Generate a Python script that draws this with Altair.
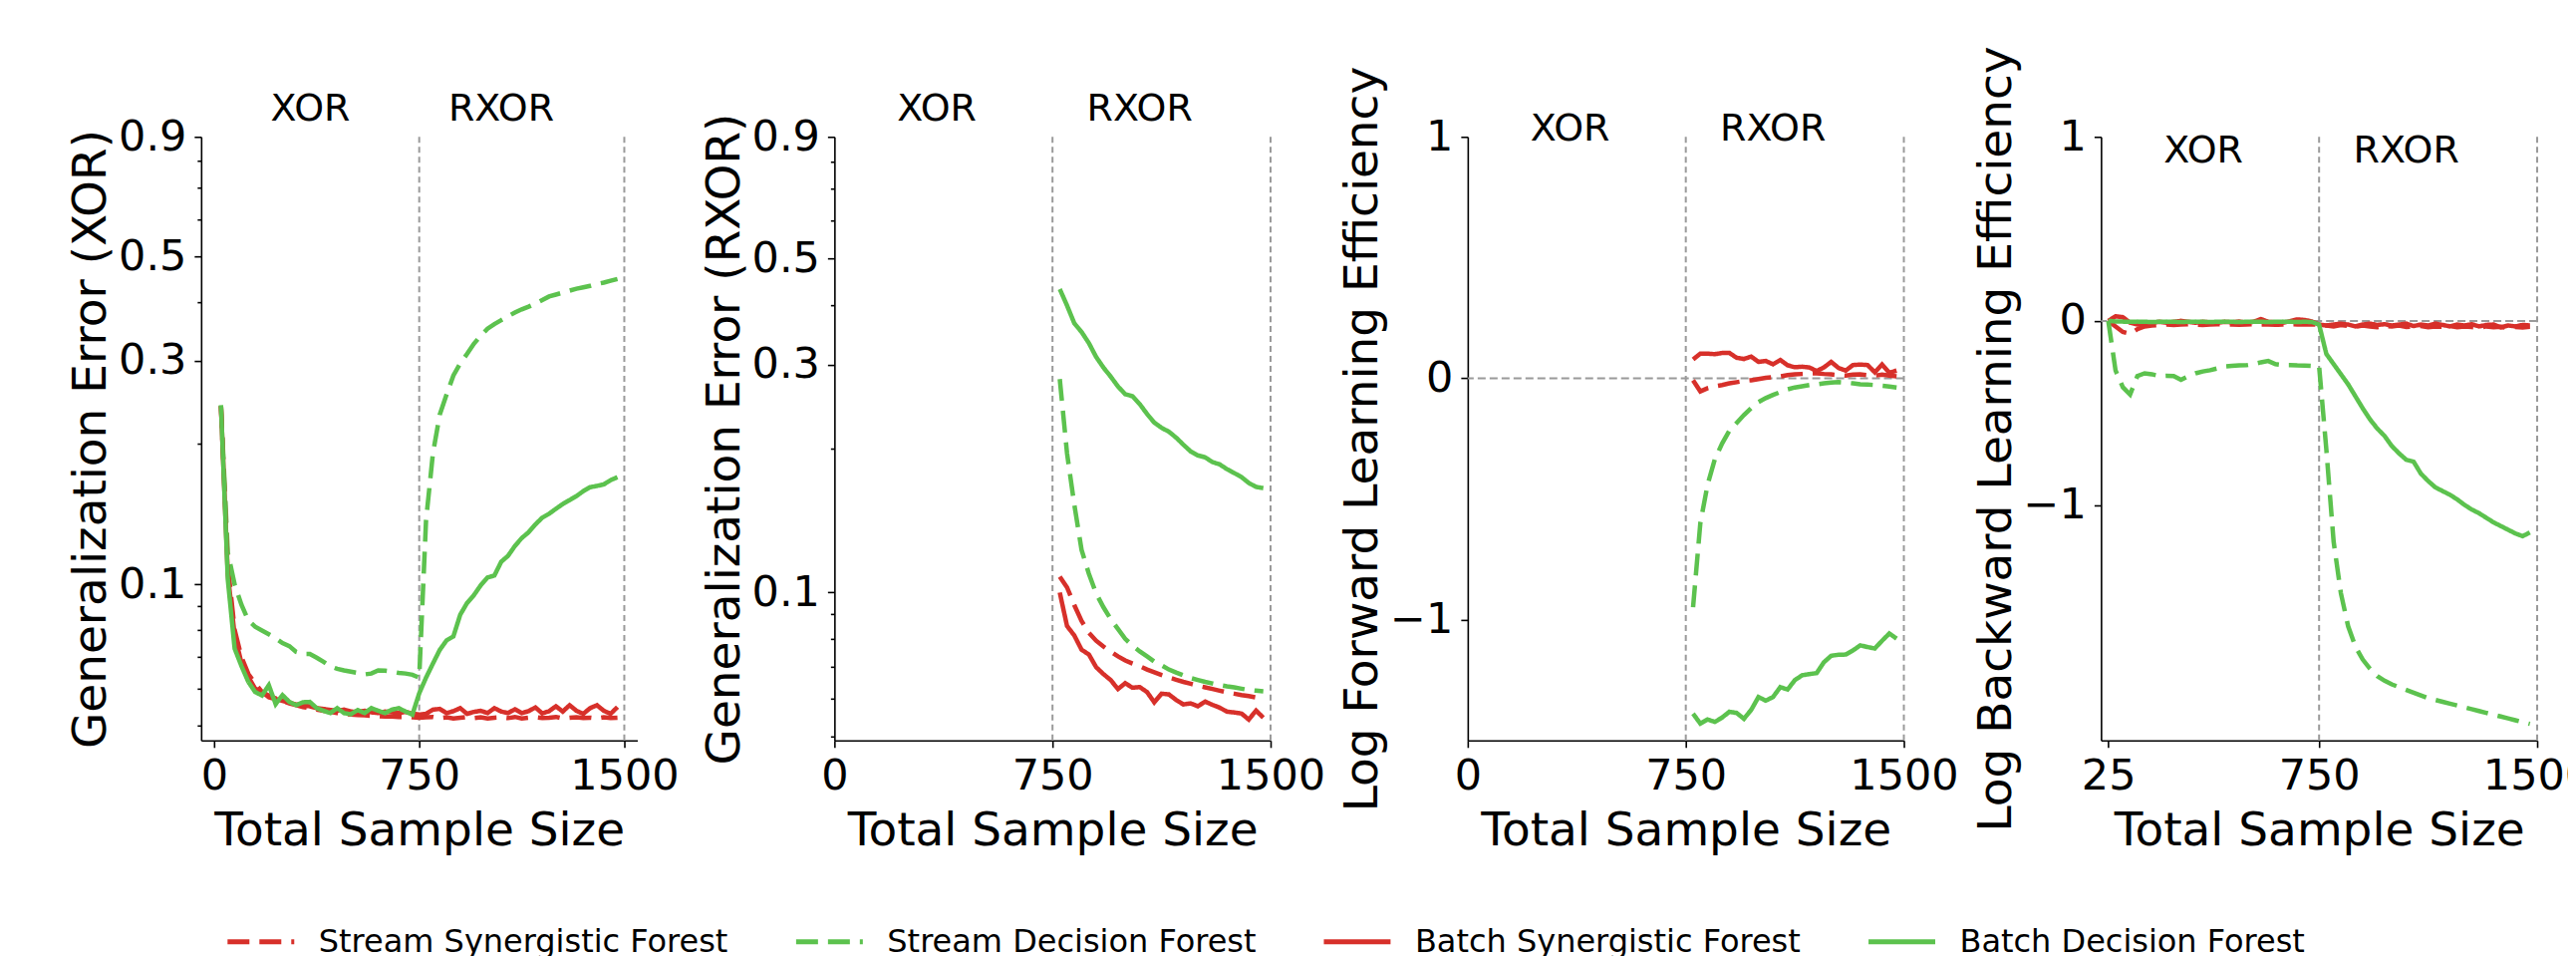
import altair as alt
import pandas as pd

FONT = "DejaVu Sans"

SERIES = ["Stream Synergistic Forest", "Stream Decision Forest",
          "Batch Synergistic Forest", "Batch Decision Forest"]
SERIES_COLORS = ["#d7302a", "#5cc24e", "#d7302a", "#5cc24e"]
SERIES_DASHES = [[22, 10], [22, 10], [1, 0], [1, 0]]

# sample sizes
X_ALL = list(range(25, 1500, 25))      # 25 .. 1475
X_RXOR = list(range(775, 1500, 25))    # 775 .. 1475

TASK_LABELS = ["XOR", "RXOR"]
TASK_LABEL_X = [352, 1050]
TASK_LABEL_Y = [1.027, 1.025, 1.028, 0.92]

LOG_TICKS = [0.05, 0.06, 0.07, 0.08, 0.09, 0.1, 0.2, 0.3, 0.4, 0.5, 0.6, 0.7, 0.8, 0.9]
EFF_TICKS = [-1, 0, 1]

# ---------------- Panel 1: Generalization Error (XOR) ----------------
P1_STREAM_SYN = [0.240, 0.110, 0.080, 0.070, 0.0645, 0.0615, 0.0590, 0.0580, 0.0572, 0.0565,
                 0.0558, 0.0553, 0.0548, 0.0545, 0.0541, 0.0538, 0.0535, 0.0532, 0.0530, 0.0528,
                 0.0527, 0.0526, 0.0525, 0.0524, 0.0523, 0.0523, 0.0522, 0.0522, 0.0521, 0.0520,
                 0.0521, 0.0522, 0.0519, 0.0521, 0.0518, 0.0520, 0.0522, 0.0519, 0.0521, 0.0518,
                 0.0520, 0.0521, 0.0519, 0.0522, 0.0518, 0.0520, 0.0521, 0.0519, 0.0520, 0.0522,
                 0.0518, 0.0520, 0.0521, 0.0519, 0.0520, 0.0518, 0.0521, 0.0519, 0.0520]
P1_STREAM_DF = [0.241, 0.117, 0.100, 0.0905, 0.0838, 0.0813, 0.0798, 0.0783, 0.0768, 0.0750,
                0.0739, 0.0718, 0.0711, 0.0711, 0.0698, 0.0684, 0.0669, 0.0661, 0.0656, 0.0652,
                0.0648, 0.0643, 0.0646, 0.0656, 0.0655, 0.0652, 0.0648, 0.0646, 0.0642, 0.0633,
                0.137, 0.190, 0.230, 0.254, 0.279, 0.296, 0.310, 0.326, 0.339, 0.351,
                0.359, 0.366, 0.373, 0.380, 0.386, 0.391, 0.397, 0.404, 0.411, 0.415,
                0.419, 0.423, 0.427, 0.430, 0.433, 0.437, 0.440, 0.444, 0.448]
P1_BATCH_SYN = [0.240, 0.105, 0.078, 0.068, 0.0635, 0.060, 0.059, 0.0575, 0.057, 0.0565,
                0.056, 0.0555, 0.0552, 0.055, 0.0545, 0.0543, 0.054, 0.0538, 0.0541, 0.0536,
                0.0535, 0.0538, 0.0534, 0.0532, 0.0536, 0.0534, 0.0532, 0.0535, 0.0531, 0.0528,
                0.0530, 0.0541, 0.0543, 0.0532, 0.0537, 0.0545, 0.0530, 0.0535, 0.0538, 0.0532,
                0.0545, 0.0536, 0.0532, 0.0542, 0.0532, 0.0537, 0.0547, 0.0531, 0.0537, 0.0550,
                0.0536, 0.0553, 0.0538, 0.0530, 0.0545, 0.0553, 0.0538, 0.0530, 0.0548]
P1_BATCH_DF = [0.241, 0.1025, 0.073, 0.067, 0.062, 0.059, 0.058, 0.061, 0.0556, 0.0581,
               0.0562, 0.0553, 0.0561, 0.0562, 0.0545, 0.0538, 0.0532, 0.0545, 0.0532, 0.0529,
               0.0540, 0.0532, 0.0545, 0.0538, 0.0532, 0.0541, 0.0545, 0.0536, 0.0528, 0.0586,
               0.0633, 0.0678, 0.0725, 0.0760, 0.0775, 0.0862, 0.0913, 0.0949, 0.0996, 0.1035,
               0.1045, 0.1118, 0.1151, 0.1208, 0.1256, 0.1292, 0.1343, 0.1388, 0.1415, 0.1450,
               0.1484, 0.1513, 0.1543, 0.1581, 0.1612, 0.1622, 0.1634, 0.1669, 0.1693]

# ---------------- Panel 2: Generalization Error (RXOR) ----------------
P2_STREAM_SYN = [0.108, 0.1025, 0.0941, 0.0872, 0.0824, 0.0793, 0.0771, 0.0752, 0.0735, 0.0721,
                 0.0710, 0.0701, 0.0690, 0.0681, 0.0672, 0.0664, 0.0657, 0.0650, 0.0644, 0.0638,
                 0.0633, 0.0628, 0.0623, 0.0618, 0.0614, 0.0610, 0.0607, 0.0603, 0.0600]
P2_STREAM_DF = [0.280, 0.1956, 0.1528, 0.1228, 0.1095, 0.0996, 0.0932, 0.0880, 0.0839, 0.0800,
                0.0774, 0.0753, 0.0735, 0.0717, 0.0704, 0.0690, 0.0680, 0.0671, 0.0662, 0.0656,
                0.0650, 0.0645, 0.0640, 0.0636, 0.0633, 0.0629, 0.0625, 0.0623, 0.0621]
P2_BATCH_SYN = [0.100, 0.0851, 0.0813, 0.0759, 0.0742, 0.0698, 0.0675, 0.0656, 0.0628, 0.0646,
                0.0632, 0.0634, 0.0619, 0.0589, 0.0614, 0.0612, 0.0596, 0.0583, 0.0586, 0.0578,
                0.0591, 0.0582, 0.0574, 0.0563, 0.0561, 0.0558, 0.0542, 0.0566, 0.0547]
P2_BATCH_DF = [0.432, 0.399, 0.3663, 0.3512, 0.3330, 0.3115, 0.2960, 0.2833, 0.2702, 0.2602,
               0.2577, 0.2481, 0.2366, 0.2269, 0.2213, 0.2172, 0.2111, 0.2040, 0.1975, 0.1937,
               0.1919, 0.1876, 0.1855, 0.1813, 0.1779, 0.1745, 0.1696, 0.1664, 0.1654]

# ---------------- Panel 3: Log Forward Learning Efficiency ----------------
P3_STREAM_SYN = [-0.008, -0.054, -0.041, -0.033, -0.028, -0.021, -0.016, -0.011, -0.008, -0.003,
                 0.002, 0.005, 0.008, 0.013, 0.016, 0.018, 0.020, 0.021, 0.018, 0.016,
                 0.013, 0.011, 0.015, 0.016, 0.013, 0.011, 0.015, 0.011, 0.008]
P3_STREAM_DF = [-0.948, -0.600, -0.440, -0.335, -0.270, -0.217, -0.185, -0.152, -0.123, -0.098,
                -0.082, -0.069, -0.057, -0.046, -0.038, -0.033, -0.028, -0.025, -0.021, -0.018,
                -0.016, -0.018, -0.021, -0.025, -0.026, -0.028, -0.031, -0.034, -0.038]
P3_BATCH_SYN = [0.078, 0.102, 0.102, 0.100, 0.105, 0.105, 0.085, 0.080, 0.090, 0.068,
                0.072, 0.058, 0.076, 0.054, 0.046, 0.048, 0.045, 0.030, 0.045, 0.068,
                0.043, 0.032, 0.055, 0.057, 0.055, 0.025, 0.057, 0.023, 0.032]
P3_BATCH_DF = [-1.389, -1.430, -1.413, -1.423, -1.405, -1.381, -1.386, -1.410, -1.373, -1.320,
               -1.335, -1.320, -1.279, -1.289, -1.250, -1.230, -1.225, -1.221, -1.176, -1.149,
               -1.145, -1.144, -1.127, -1.106, -1.113, -1.119, -1.087, -1.057, -1.078]

# ---------------- Panel 4: Log Backward Learning Efficiency ----------------
P4_STREAM_SYN = [0.0, -0.030, -0.060, -0.070, -0.045, -0.030, -0.025, -0.022, -0.020, -0.022,
                 -0.020, -0.018, -0.020, -0.022, -0.020, -0.018, -0.020, -0.019, -0.021, -0.020,
                 -0.018, -0.020, -0.019, -0.021, -0.020, -0.018, -0.019, -0.020, -0.018, -0.020,
                 -0.025, -0.030, -0.022, -0.028, -0.032, -0.025, -0.030, -0.035, -0.028, -0.030,
                 -0.025, -0.033, -0.030, -0.028, -0.035, -0.030, -0.032, -0.028, -0.035, -0.030,
                 -0.033, -0.038, -0.030, -0.035, -0.032, -0.040, -0.033, -0.036, -0.032]
P4_STREAM_DF = [0.0, -0.27, -0.36, -0.40, -0.30, -0.285, -0.29, -0.30, -0.298, -0.30,
                -0.32, -0.30, -0.285, -0.275, -0.268, -0.258, -0.248, -0.245, -0.242, -0.241,
                -0.235, -0.225, -0.218, -0.235, -0.24, -0.24, -0.242, -0.243, -0.245, -0.246,
                -0.70, -1.20, -1.48, -1.66, -1.77, -1.84, -1.89, -1.93, -1.955, -1.975,
                -1.99, -2.005, -2.02, -2.035, -2.05, -2.06, -2.07, -2.08, -2.09, -2.10,
                -2.11, -2.12, -2.13, -2.14, -2.15, -2.16, -2.17, -2.18, -2.19]
P4_BATCH_SYN = [0.0, 0.025, 0.020, -0.010, -0.020, -0.015, -0.010, -0.005, -0.010, -0.005,
                0.000, -0.005, -0.010, -0.005, -0.008, -0.010, -0.005, -0.008, -0.003, -0.010,
                -0.005, 0.010, -0.005, -0.008, -0.010, -0.002, 0.008, 0.005, -0.003, -0.020,
                -0.025, -0.020, -0.015, -0.020, -0.030, -0.020, -0.015, -0.022, -0.018, -0.025,
                -0.020, -0.015, -0.028, -0.020, -0.025, -0.015, -0.022, -0.030, -0.020, -0.025,
                -0.018, -0.030, -0.022, -0.020, -0.035, -0.025, -0.030, -0.022, -0.025]
P4_BATCH_DF = [0.0, -0.003, -0.004, -0.005, -0.004, -0.005, -0.006, -0.005, -0.004, -0.005,
               -0.006, -0.005, -0.004, -0.005, -0.006, -0.005, -0.004, -0.005, -0.006, -0.005,
               -0.004, -0.005, -0.006, -0.005, -0.004, -0.005, -0.006, -0.005, -0.006, -0.020,
               -0.18, -0.235, -0.29, -0.345, -0.41, -0.475, -0.535, -0.585, -0.625, -0.68,
               -0.72, -0.755, -0.765, -0.83, -0.87, -0.905, -0.925, -0.945, -0.97, -1.00,
               -1.025, -1.045, -1.07, -1.095, -1.115, -1.135, -1.155, -1.17, -1.15]

PANEL_W = 438
PANEL_H = 606

LEGEND = alt.Legend(
    title=None, orient="none", legendX=24, legendY=772, direction="horizontal",
    columns=4, symbolType="stroke", symbolSize=4489, symbolStrokeWidth=5,
    labelFont=FONT, labelFontSize=32, labelColor="black", labelLimit=2000,
    labelOffset=22, columnPadding=57, padding=0,
)

COLOR_SCALE = alt.Scale(domain=SERIES, range=SERIES_COLORS)
DASH_SCALE = alt.Scale(domain=SERIES, range=SERIES_DASHES)

MAJOR_EXPR = "indexof([0.1, 0.3, 0.5, 0.9], datum.value) >= 0"


def build_panel(xs_list, values, xdom, xticks, ydom, ylog, ytitle, label_y, hline):
    x_enc = alt.X(
        "x:Q",
        scale=alt.Scale(domain=xdom, nice=False, zero=False),
        axis=alt.Axis(values=xticks, title="Total Sample Size", labelFlush=False,
                      format="d", labelOverlap=False, titlePadding=10),
    )
    if ylog:
        y_enc = alt.Y(
            "y:Q",
            scale=alt.Scale(type="log", domain=ydom, nice=False),
            axis=alt.Axis(
                values=LOG_TICKS, title=ytitle, labelOverlap=False,
                labelExpr=MAJOR_EXPR + " ? format(datum.value, '.1f') : ''",
                tickSize={"condition": {"test": MAJOR_EXPR, "value": 7}, "value": 4},
            ),
        )
    else:
        y_enc = alt.Y(
            "y:Q",
            scale=alt.Scale(domain=ydom, nice=False, zero=False),
            axis=alt.Axis(values=EFF_TICKS, title=ytitle, format="d", labelOverlap=False),
        )

    layers = []
    vr = alt.Chart(pd.DataFrame({"x": [750, 1500]})).mark_rule(
        color="#9a9a9a", strokeDash=[6, 4], strokeWidth=2
    ).encode(x=x_enc)
    layers.append(vr)
    if hline:
        hr = alt.Chart(pd.DataFrame({"y": [0]})).mark_rule(
            color="#9a9a9a", strokeDash=[8, 4], strokeWidth=2
        ).encode(y=y_enc)
        layers.append(hr)

    for name, xs, vals in zip(SERIES, xs_list, values):
        df = pd.DataFrame({"x": xs, "y": vals, "series": [name] * len(xs)})
        ln = alt.Chart(df).mark_line(strokeWidth=4.5).encode(
            x=x_enc,
            y=y_enc,
            color=alt.Color("series:N", scale=COLOR_SCALE, legend=LEGEND),
            strokeDash=alt.StrokeDash("series:N", scale=DASH_SCALE, legend=LEGEND),
        )
        layers.append(ln)

    tdf = pd.DataFrame({"x": TASK_LABEL_X, "y": [label_y, label_y], "label": TASK_LABELS})
    tx = alt.Chart(tdf).mark_text(
        font=FONT, fontSize=38, color="black", align="center", baseline="middle"
    ).encode(x=x_enc, y=y_enc, text="label:N")
    layers.append(tx)

    return alt.layer(*layers).properties(width=PANEL_W, height=PANEL_H)


p1 = build_panel([X_ALL] * 4, [P1_STREAM_SYN, P1_STREAM_DF, P1_BATCH_SYN, P1_BATCH_DF],
                 [-47.5, 1547.5], [0, 750, 1500], [0.0465, 0.9], True,
                 "Generalization Error (XOR)", TASK_LABEL_Y[0], False)
p2 = build_panel([X_RXOR] * 4, [P2_STREAM_SYN, P2_STREAM_DF, P2_BATCH_SYN, P2_BATCH_DF],
                 [0, 1500], [0, 750, 1500], [0.049, 0.9], True,
                 "Generalization Error (RXOR)", TASK_LABEL_Y[1], False)
p3 = build_panel([X_RXOR] * 4, [P3_STREAM_SYN, P3_STREAM_DF, P3_BATCH_SYN, P3_BATCH_DF],
                 [0, 1500], [0, 750, 1500], [-1.5, 1], False,
                 "Log Forward Learning Efficiency", TASK_LABEL_Y[2], True)
p4 = build_panel([X_ALL] * 4, [P4_STREAM_SYN, P4_STREAM_DF, P4_BATCH_SYN, P4_BATCH_DF],
                 [0, 1500], [25, 750, 1500], [-2.28, 1], False,
                 "Log Backward Learning Efficiency", TASK_LABEL_Y[3], True)

chart = alt.hconcat(p1, p2, p3, p4, spacing=198, bounds="flush").resolve_scale(
    x="independent", y="independent", color="shared", strokeDash="shared"
).properties(
    padding={"left": 59, "top": 37, "right": -25, "bottom": 0}
).configure_axis(
    labelFont=FONT, titleFont=FONT, labelFontSize=43, titleFontSize=47,
    labelColor="black", titleColor="black", titleFontWeight="normal",
    domainColor="black", tickColor="black", domainWidth=1.6, tickWidth=1.6,
    tickSize=7, labelPadding=8, titlePadding=3, grid=False,
).configure_view(stroke="transparent")

chart.save("out.html", embed_options={"renderer": "svg", "actions": False})
